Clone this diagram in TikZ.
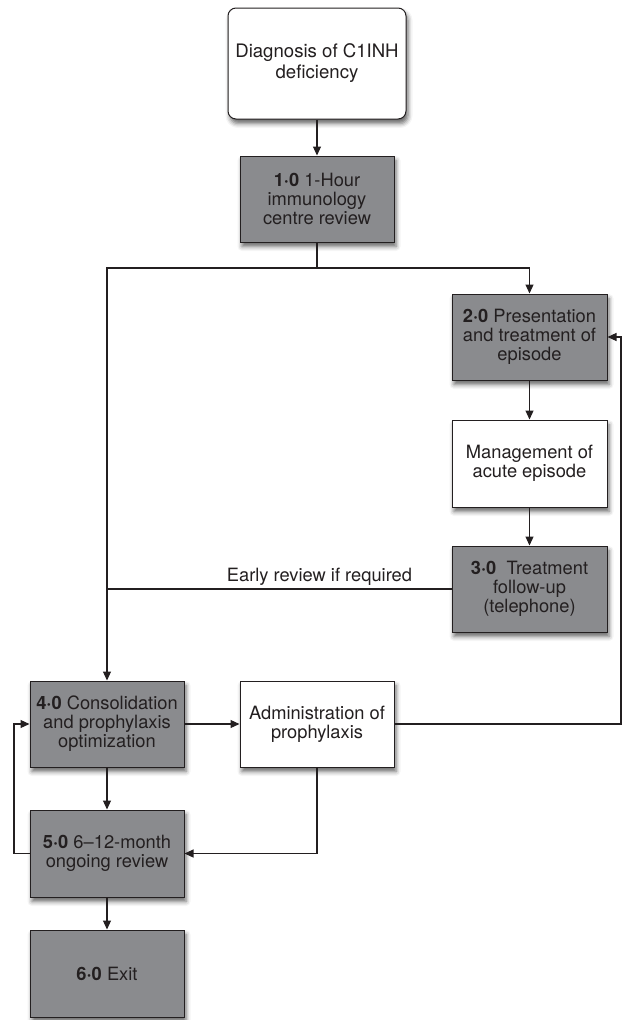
\documentclass[tikz,border=0pt]{standalone}
\usepackage{fontspec}
\setmainfont{TeX Gyre Heros}
\usetikzlibrary{arrows.meta,shadows.blur}
\definecolor{boxgray}{RGB}{138,139,142}
\definecolor{ink}{RGB}{35,31,32}
\tikzset{
  base/.style={draw=ink, line width=1pt, text=ink, align=center, inner sep=2pt,
    font=\fontsize{18.3pt}{19pt}\selectfont,
    blur shadow={shadow xshift=2pt, shadow yshift=-4.5pt, shadow blur radius=4.5pt, shadow opacity=60}},
  graybox/.style={base, fill=boxgray, minimum width=154pt, minimum height=86pt},
  whitebox/.style={base, fill=white, minimum width=154pt, minimum height=86pt},
  conn/.style={draw=ink, line width=1.1pt},
  arr/.style={conn, -{Triangle[length=9pt,width=8pt]}},
  lbl/.style={text=ink, font=\fontsize{18.3pt}{19pt}\selectfont, inner sep=0pt}
}
\begin{document}
\begin{tikzpicture}[x=1pt,y=-1pt]
\useasboundingbox (0,0) rectangle (624,1020);
\node[base, fill=white, rounded corners=8pt, minimum width=178pt, minimum height=111pt,
      font=\fontsize{18.6pt}{21pt}\selectfont] (diag) at (317,63.5) {Diagnosis of C1INH\\deficiency};
\node[graybox] (a1) at (317,199) {\textbf{1·0} 1-Hour\\immunology\\centre review};
\node[graybox, minimum width=155pt] (a2) at (529.5,337) {\textbf{2·0} Presentation\\and treatment of\\episode};
\node[whitebox, minimum width=155pt, minimum height=87pt] (mgmt) at (529.5,463.5) {Management of\\acute episode};
\node[graybox, minimum width=155pt] (a3) at (529.5,589) {\textbf{3·0}\ \ Treatment\\follow-up\\(telephone)};
\node[graybox] (a4) at (107,724) {\textbf{4·0} Consolidation\\and prophylaxis\\optimization};
\node[whitebox] (admin) at (317,724) {Administration of\\prophylaxis};
\node[graybox, minimum height=87pt] (a5) at (107,853.5) {\textbf{5·0} 6–12-month\\ongoing review};
\node[graybox, minimum height=87pt] (a6) at (107,973.5) {\textbf{6·0} Exit};

\coordinate (split) at (317,268);
\coordinate (rt) at (621,724);
\coordinate (lt) at (14,853.5);
\coordinate (dn) at (317,853.5);

\draw[arr] (diag) -- (a1);
\draw[conn] (a1) -- (split);
\draw[arr] (split) -| (a2);
\draw[arr] (split) -| (a4);
\draw[arr] (a2) -- (mgmt);
\draw[arr] (mgmt) -- (a3);
\draw[conn] (a3.west) -- (107,589);
\node[lbl] (early) at (319.5,577) {Early review if required};
\draw[arr] (a4) -- (admin);
\draw[arr] (admin.east) -- (rt) |- (a2.east);
\draw[arr] (a4) -- (a5);
\draw[arr] (admin.south) -- (dn) -- (a5.east);
\draw[arr] (a5.west) -- (lt) |- (a4.west);
\draw[arr] (a5) -- (a6);
\end{tikzpicture}
\end{document}
